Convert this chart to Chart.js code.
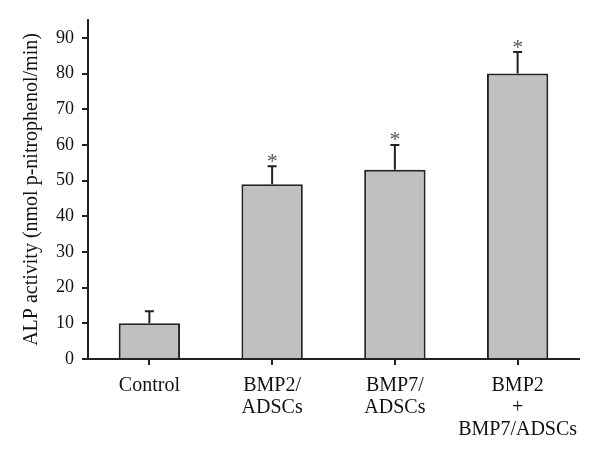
<!DOCTYPE html>
<html>
<head>
<meta charset="utf-8">
<script src="https://cdn.jsdelivr.net/npm/chart.js@4.4.1/dist/chart.umd.min.js"></script>
<style>
  html, body { margin: 0; padding: 0; background: #ffffff; }
  #wrap { width: 600px; height: 452px; }
</style>
</head>
<body>
<div id="wrap"><canvas id="c" width="600" height="452"></canvas></div>
<script>
// ---- data ----
const categories = [["Control"], ["BMP2/", "ADSCs"], ["BMP7/", "ADSCs"], ["BMP2", "+", "BMP7/ADSCs"]];
const alpValues = [10, 49, 53, 80];
const alpErrors = [3.4, 5, 7, 6];
const significant = [false, true, true, true];
const yTicks = [0, 10, 20, 30, 40, 50, 60, 70, 80, 90];
const yMax = 95;
const yTitle = "ALP activity (nmol p-nitrophenol/min)";

const ink = '#222222';
const serif = '"Liberation Serif", "DejaVu Serif", serif';

const errorBarPlugin = {
  id: 'errorBars',
  afterDatasetsDraw(chart) {
    const ctx = chart.ctx;
    const meta = chart.getDatasetMeta(0);
    const y = chart.scales.y;
    ctx.save();
    meta.data.forEach((bar, i) => {
      const v = alpValues[i];
      const e = alpErrors[i];
      const yTop = y.getPixelForValue(v + e);
      const yBase = y.getPixelForValue(v);
      const x = bar.x;
      ctx.strokeStyle = ink;
      ctx.lineWidth = 2;
      ctx.beginPath();
      ctx.moveTo(x, yBase);
      ctx.lineTo(x, yTop);
      ctx.moveTo(x - 4.5, yTop);
      ctx.lineTo(x + 4.5, yTop);
      ctx.stroke();
      if (significant[i]) {
        ctx.fillStyle = '#555555';
        ctx.font = '22px ' + serif;
        ctx.textAlign = 'center';
        ctx.textBaseline = 'alphabetic';
        const m = ctx.measureText('*');
        const mid = (m.actualBoundingBoxAscent - m.actualBoundingBoxDescent) / 2;
        ctx.fillText('*', x, yTop - 8.5 + mid);
      }
    });
    ctx.restore();
  }
};

new Chart(document.getElementById('c'), {
  type: 'bar',
  data: {
    labels: categories,
    datasets: [{
      data: alpValues,
      backgroundColor: '#c0c0c0',
      borderColor: ink,
      borderWidth: 2,
      borderSkipped: 'bottom',
      barPercentage: 0.5,
      categoryPercentage: 1.0
    }]
  },
  options: {
    responsive: false,
    animation: false,
    devicePixelRatio: 1,
    layout: { padding: { left: 0, right: 21, top: 20, bottom: 0 } },
    plugins: { legend: { display: false }, tooltip: { enabled: false } },
    scales: {
      x: {
        offset: true,
        grid: { offset: false, drawOnChartArea: false, drawTicks: true, tickLength: 6, tickColor: ink, lineWidth: 2 },
        border: { display: true, color: ink, width: 2 },
        ticks: { color: '#111', font: { family: serif, size: 20, lineHeight: 1.1 }, padding: 10, maxRotation: 0, autoSkip: false },
        afterFit(scale) { scale.height = 93; }
      },
      y: {
        min: 0,
        max: yMax,
        afterBuildTicks(scale) { scale.ticks = yTicks.map(v => ({ value: v })); },
        grid: { drawOnChartArea: false, drawTicks: true, tickLength: 6, tickColor: ink, lineWidth: 2 },
        border: { display: true, color: ink, width: 2 },
        ticks: { color: '#111', font: { family: serif, size: 18 }, padding: 8 },
        title: { display: true, text: yTitle, color: '#111', font: { family: serif, size: 20 }, padding: { top: 20, bottom: 0 } },
        afterFit(scale) { scale.width = 88; }
      }
    }
  },
  plugins: [errorBarPlugin]
});
</script>
</body>
</html>
